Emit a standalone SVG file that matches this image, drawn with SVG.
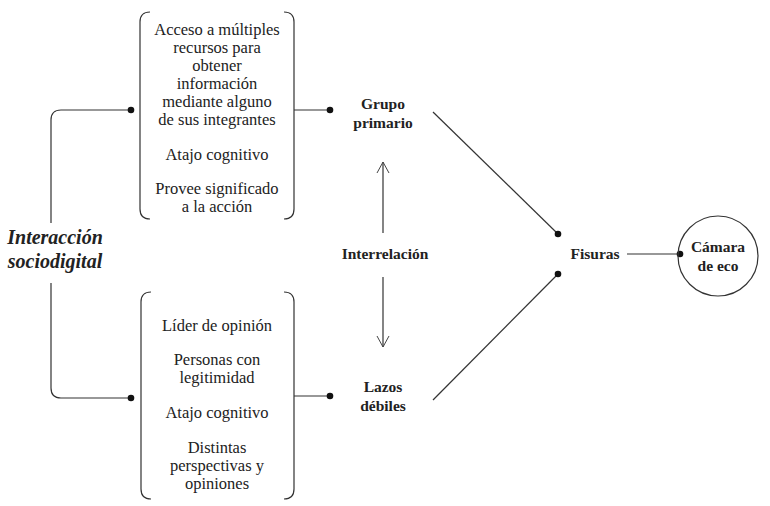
<svg xmlns="http://www.w3.org/2000/svg" width="770" height="506" viewBox="0 0 770 506" font-family="Liberation Serif, Times New Roman, serif">
<defs>
<style>
.t{font-size:16.5px;fill:#222;text-anchor:middle}
.b{font-weight:bold;font-size:15.5px}
.i{font-style:italic;font-weight:bold;font-size:20px}
.ln{fill:none;stroke:#333;stroke-width:1.2}
.dot{fill:#111}
</style>
<marker id="open" markerWidth="14" markerHeight="14" refX="12" refY="7" orient="auto" markerUnits="userSpaceOnUse"><path d="M1,1 L12,7 L1,13" fill="none" stroke="#444" stroke-width="1"/></marker>
</defs>
<rect width="770" height="506" fill="#fff"/>
<g id="connectors">
<path class="ln" d="M51,223 V120 Q51,110 61,110 H131"/>
<path class="ln" d="M51,283 V388 Q51,398 61,398 H131"/>
<circle class="dot" cx="131" cy="110" r="3.3"/>
<circle class="dot" cx="131" cy="398" r="3.3"/>
<path class="ln" d="M294,110 H330"/>
<circle class="dot" cx="330" cy="110" r="3.3"/>
<path class="ln" d="M294,396 H330"/>
<circle class="dot" cx="330" cy="396" r="3.3"/>
<path class="ln" d="M383,233 V162" stroke="#555" marker-end="url(#open)"/>
<path class="ln" d="M383,277 V347" stroke="#555" marker-end="url(#open)"/>
<path class="ln" d="M433,112 L558,234"/>
<circle class="dot" cx="558" cy="234" r="3.3"/>
<path class="ln" d="M433,400 L558,274"/>
<circle class="dot" cx="558" cy="274" r="3.3"/>
<path class="ln" d="M627,254 H680"/>
<circle class="dot" cx="680" cy="254" r="3.3"/>
</g>
<g id="interaccion">
<text class="t i" x="55" y="244">Interacción</text>
<text class="t i" x="55" y="268">sociodigital</text>
</g>
<g id="box-top">
<path class="ln" d="M150,12 Q140,12 140,22 V209 Q140,219 150,219"/>
<path class="ln" d="M284,12 Q294,12 294,22 V209 Q294,219 284,219"/>
<text class="t" x="217" y="35">Acceso a múltiples</text>
<text class="t" x="217" y="53">recursos para</text>
<text class="t" x="217" y="71">obtener</text>
<text class="t" x="217" y="89">información</text>
<text class="t" x="217" y="107">mediante alguno</text>
<text class="t" x="217" y="125">de sus integrantes</text>
<text class="t" x="217" y="160">Atajo cognitivo</text>
<text class="t" x="217" y="194">Provee significado</text>
<text class="t" x="217" y="212">a la acción</text>
</g>
<g id="box-bottom">
<path class="ln" d="M151,292 Q141,292 141,302 V489 Q141,499 151,499"/>
<path class="ln" d="M284,292 Q294,292 294,302 V489 Q294,499 284,499"/>
<text class="t" x="217" y="331">Líder de opinión</text>
<text class="t" x="217" y="365">Personas con</text>
<text class="t" x="217" y="383">legitimidad</text>
<text class="t" x="217" y="418">Atajo cognitivo</text>
<text class="t" x="217" y="453">Distintas</text>
<text class="t" x="217" y="471">perspectivas y</text>
<text class="t" x="217" y="489">opiniones</text>
</g>
<g id="grupo-primario">
<text class="t b" x="383" y="109">Grupo</text>
<text class="t b" x="383" y="128">primario</text>
</g>
<g id="interrelacion">
<text class="t b" x="385" y="259">Interrelación</text>
</g>
<g id="lazos-debiles">
<text class="t b" x="383" y="392">Lazos</text>
<text class="t b" x="383" y="411">débiles</text>
</g>
<g id="fisuras">
<text class="t b" x="595" y="259">Fisuras</text>
</g>
<g id="camara-eco">
<circle class="ln" cx="718" cy="256" r="40"/>
<text class="t b" x="718" y="252">Cámara</text>
<text class="t b" x="718" y="271">de eco</text>
</g>
</svg>
